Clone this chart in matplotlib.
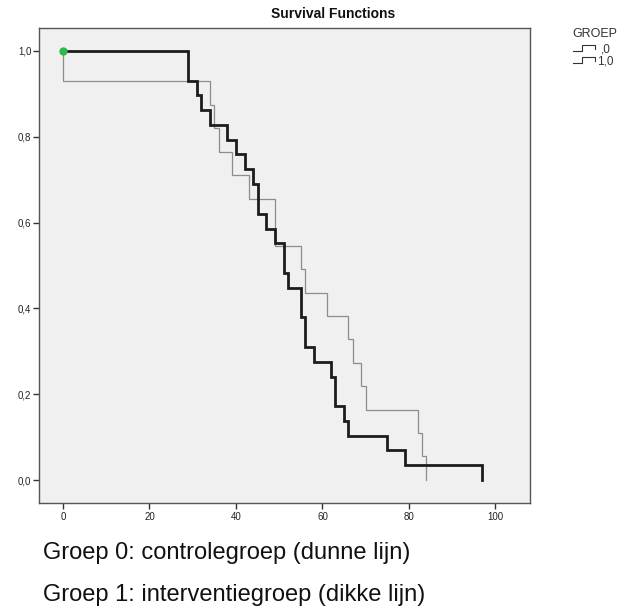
import matplotlib
matplotlib.use("Agg")
import matplotlib.pyplot as plt
from matplotlib.lines import Line2D

plt.rcParams['font.family'] = ['Liberation Sans', 'DejaVu Sans']

# Group 0 (controlegroep, thin line): event times and survival after each step
g0_times = [0, 34, 35, 36, 39, 43, 49, 55, 56, 61, 66, 67, 69, 70, 82, 83, 84]
g0_surv = [0.929, 0.874, 0.820, 0.765, 0.710, 0.656, 0.546, 0.492, 0.437,
           0.383, 0.328, 0.273, 0.219, 0.164, 0.109, 0.055, 0.0]

# Group 1 (interventiegroep, thick line)
g1_times = [29, 31, 32, 34, 38, 40, 42, 44, 45, 47, 49, 51, 52, 55, 56, 58,
            62, 63, 65, 66, 75, 79, 97]
g1_surv = [0.931, 0.897, 0.862, 0.828, 0.793, 0.759, 0.724, 0.690, 0.621,
           0.586, 0.552, 0.483, 0.448, 0.379, 0.310, 0.276, 0.241, 0.172,
           0.138, 0.103, 0.069, 0.034, 0.0]

x_ticks = [0, 20, 40, 60, 80, 100]
y_ticks = [0.0, 0.2, 0.4, 0.6, 0.8, 1.0]
y_tick_labels = ["0,0", "0,2", "0,4", "0,6", "0,8", "1,0"]
legend_title = "GROEP"
legend_labels = [",0", "1,0"]
title = "Survival Functions"
notes = ["Groep 0: controlegroep (dunne lijn)",
         "Groep 1: interventiegroep (dikke lijn)"]

W, H = 624, 607
fig = plt.figure(figsize=(W / 100, H / 100), dpi=100)
fig.patch.set_facecolor('white')

def fx(px):
    return px / W

def fy(py):
    return 1 - py / H

ax = fig.add_axes([fx(39), fy(503), (530 - 39) / W, (503 - 28) / H])
ax.set_facecolor('#f0f0f0')

ax.step([0] + g0_times, [1.0] + g0_surv, where='post',
        color='#8c8c8c', lw=0.9, solid_joinstyle='miter')
ax.step([0] + g1_times, [1.0] + g1_surv, where='post',
        color='#1c1c1c', lw=2.0, solid_joinstyle='miter')
ax.plot([0], [1.0], 'o', color='#2cbb4a', markersize=6, markeredgewidth=0,
        zorder=5)

ax.set_xlim(-5.55, 108.0)
ax.set_ylim(-0.0536, 1.0536)
ax.set_xticks(x_ticks)
ax.set_xticklabels([str(v) for v in x_ticks])
ax.set_yticks(y_ticks)
ax.set_yticklabels(y_tick_labels)
ax.tick_params(axis='both', direction='out', length=4.5, width=1,
               color='#333333', labelsize=7, labelcolor='#222222')
ax.tick_params(axis='x', pad=2)
ax.tick_params(axis='y', pad=1)
for sp in ax.spines.values():
    sp.set_color('#555555')
    sp.set_linewidth(1.0)

fig.text(fx(333), fy(14), title, ha='center', va='center',
         fontsize=10, fontweight='bold', color='#111111')

# legend
fig.text(fx(572), fy(34), legend_title, ha='left', va='center',
         fontsize=9, color='#333333')
label_x = [601, 597]
for i, lab in enumerate(legend_labels):
    yc = 48 + i * 12
    xs = [573, 582, 582, 595, 595]
    ys = [yc + 3, yc + 3, yc - 3, yc - 3, yc + 1]
    fig.add_artist(Line2D([fx(v) for v in xs], [fy(v) for v in ys],
                          color='#333333', lw=0.8))
    fig.text(fx(label_x[i]), fy(yc + 1), lab, ha='left', va='center',
             fontsize=8.5, color='#333333')

fig.text(fx(43), fy(559), notes[0], ha='left', va='baseline',
         fontsize=17, color='#111111')
fig.text(fx(43), fy(601), notes[1], ha='left', va='baseline',
         fontsize=17, color='#111111')

fig.savefig('out.png', dpi=100)
